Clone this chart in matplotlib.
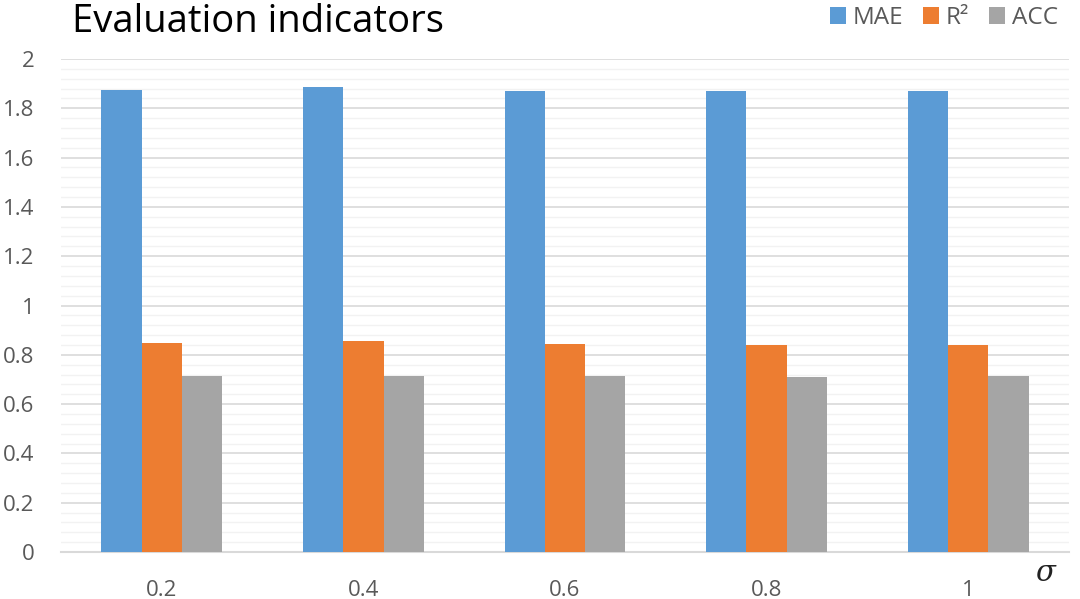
import matplotlib
matplotlib.use("Agg")
import matplotlib.pyplot as plt
import numpy as np
from matplotlib.ticker import MultipleLocator

categories = ["0.2", "0.4", "0.6", "0.8", "1"]
series_names = ["MAE", "R\u00b2", "ACC"]
mae = [1.875, 1.885, 1.871, 1.871, 1.871]
r2 = [0.848, 0.854, 0.845, 0.840, 0.841]
acc = [0.712, 0.716, 0.712, 0.708, 0.712]
colors = ["#5B9BD5", "#ED7D31", "#A5A5A5"]

plt.rcParams['font.family'] = ['Open Sans', 'DejaVu Sans']

fig = plt.figure(figsize=(10.8, 5.99), dpi=100)
ax = fig.add_axes([61/1080, 47/599, (1069-61)/1080, (552-59)/599])

x = np.arange(len(categories))
w = 0.2
for i, (vals, name) in enumerate(zip([mae, r2, acc], series_names)):
    ax.bar(x + (i - 1) * w, vals, width=w, color=colors[i], label=name, zorder=3)

ax.set_xlim(-0.5, len(categories) - 0.5)
ax.set_ylim(0, 2)
ax.yaxis.set_major_locator(MultipleLocator(0.2))
ax.yaxis.set_minor_locator(MultipleLocator(0.04))
ax.grid(axis='y', which='major', color='#D9D9D9', linewidth=1.2, zorder=0)
ax.grid(axis='y', which='minor', color='#F2F2F2', linewidth=1.0, zorder=0)
for s in ['top', 'right', 'left']:
    ax.spines[s].set_visible(False)
ax.spines['bottom'].set_color('#D9D9D9')
ax.spines['bottom'].set_linewidth(1.5)

ax.set_xticks(x)
ax.set_xticklabels(categories)
ax.set_yticks(np.arange(0, 2.01, 0.2))
ax.set_yticklabels(["0", "0.2", "0.4", "0.6", "0.8", "1", "1.2", "1.4", "1.6", "1.8", "2"])
ax.tick_params(axis='both', which='both', length=0, colors='#595959', labelsize=16)
ax.tick_params(axis='x', pad=20)
ax.tick_params(axis='y', pad=19)

fig.text(1045/1080, 1 - 573/599, "\u03c3", fontsize=21, style='italic', color='#222222',
         ha='center', va='center', family=['DejaVu Serif'])

fig.text(72/1080, 1 - 22/599, "Evaluation indicators", fontsize=27.5, color='black',
         ha='left', va='center')

fig.legend(loc='center right', bbox_to_anchor=(1058/1080, 1 - 18/599), ncol=3, frameon=False,
           fontsize=17.5, handlelength=0.65, handleheight=0.65, handletextpad=0.3,
           columnspacing=0.8, borderpad=0, borderaxespad=0, labelcolor='#595959')

fig.savefig("out.png", dpi=100)
